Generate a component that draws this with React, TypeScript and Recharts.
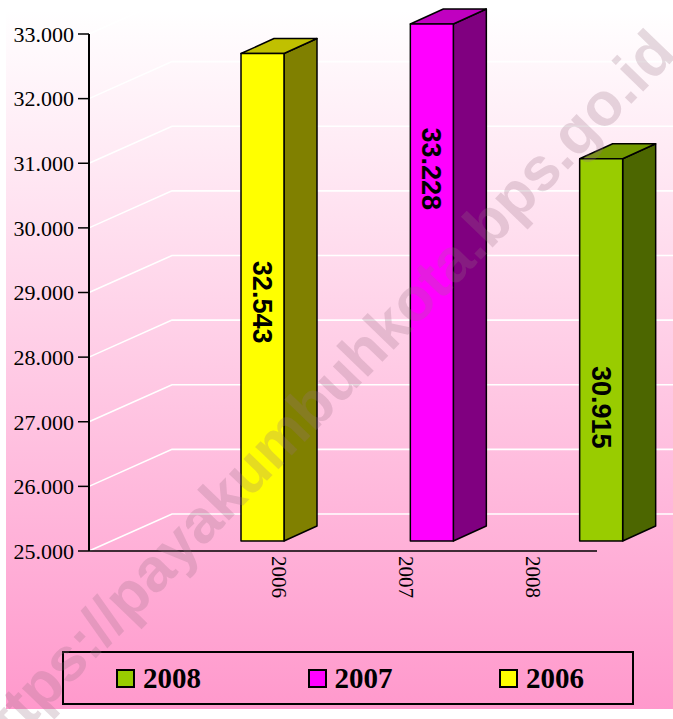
import React from "react";
import {
  BarChart,
  Bar,
  XAxis,
  YAxis,
  CartesianGrid,
  Legend,
  LabelList,
} from "recharts";

const YEARS = ["2006", "2007", "2008"];
const VALUES = [32543, 33228, 30915];
const Y_TICKS = [25000, 26000, 27000, 28000, 29000, 30000, 31000, 32000, 33000];
const LEGEND_YEARS = ["2008", "2007", "2006"];

const Y_MIN = Y_TICKS[0];
const Y_MAX = Y_TICKS[Y_TICKS.length - 1];

// styles
const FRONT = ["#ffff00", "#ff00ff", "#99cc00"];
const TOP = ["#c0c000", "#c000c0", "#739900"];
const SIDE = ["#808000", "#800080", "#4c6600"];
const LEGEND_COLOR: Record<string, string> = {
  "2006": "#ffff00",
  "2007": "#ff00ff",
  "2008": "#99cc00",
};
const LABEL_AT = [0.51, 0.28, 0.65];
const SERIF = '"Liberation Serif", "Times New Roman", serif';
const SANS = '"Liberation Sans", Arial, sans-serif';

// 3d depth
const WALL_DX = 83;
const WALL_DY = 37;
const BAR_X = 22;
const BAR_Y = 10;
const BOX_DX = 33;
const BOX_DY = 15;

const data = YEARS.map((year, i) => ({
  year,
  value: VALUES[i],
  shown: Math.min(VALUES[i], Y_MAX),
}));

const fmt = (v: number) =>
  String(v).replace(/\B(?=(\d{3})+(?!\d))/g, ".");

const Box3D = (props: any) => {
  const { x, y, width, height, index } = props;
  const fx = x + BAR_X;
  const fy = y - BAR_Y;
  const top = `M${fx},${fy}L${fx + BOX_DX},${fy - BOX_DY}L${fx + width + BOX_DX},${fy - BOX_DY}L${fx + width},${fy}Z`;
  const side = `M${fx + width},${fy}L${fx + width + BOX_DX},${fy - BOX_DY}L${fx + width + BOX_DX},${fy + height - BOX_DY}L${fx + width},${fy + height}Z`;
  return (
    <g stroke="#000" strokeWidth={1.5} strokeLinejoin="round">
      <path d={side} fill={SIDE[index]} />
      <path d={top} fill={TOP[index]} />
      <rect x={fx} y={fy} width={width} height={height} fill={FRONT[index]} />
    </g>
  );
};

const ValueLabel = (props: any) => {
  const { x, y, width, height, value, index } = props;
  const cx = x + BAR_X + width / 2;
  const cy = y - BAR_Y + height * LABEL_AT[index];
  return (
    <text
      x={cx}
      y={cy}
      transform={`rotate(90 ${cx} ${cy})`}
      textAnchor="middle"
      dy="0.35em"
      fontFamily={SANS}
      fontWeight="bold"
      fontSize={27}
      fill="#000"
    >
      {fmt(value)}
    </text>
  );
};

const YearTick = (props: any) => {
  const { x, y, payload } = props;
  const ty = y - 3;
  return (
    <text
      x={x}
      y={ty}
      transform={`rotate(90 ${x} ${ty})`}
      textAnchor="start"
      dy="0.35em"
      fontFamily={SERIF}
      fontSize={21}
      fill="#000"
    >
      {payload.value}
    </text>
  );
};

const LegendBox = () => (
  <div
    style={{
      width: 572,
      height: 54,
      border: "2px solid #000",
      boxSizing: "border-box",
      display: "flex",
      alignItems: "center",
      paddingLeft: 52,
    }}
  >
    {LEGEND_YEARS.map((yr) => (
      <div
        key={yr}
        style={{
          width: 191.5,
          flexShrink: 0,
          display: "flex",
          alignItems: "center",
          gap: 8,
        }}
      >
        <span
          style={{
            width: 19,
            height: 19,
            boxSizing: "border-box",
            border: "2px solid #000",
            background: LEGEND_COLOR[yr],
            display: "inline-block",
          }}
        />
        <span
          style={{
            fontFamily: SERIF,
            fontWeight: "bold",
            fontSize: 29,
            lineHeight: "29px",
            color: "#000",
          }}
        >
          {yr}
        </span>
      </div>
    ))}
  </div>
);

const App = () => {
  return (
    <div
      style={{
        position: "absolute",
        left: 0,
        top: 0,
        width: 673,
        height: 719,
        background: "#fff",
        overflow: "hidden",
      }}
    >
      <div
        style={{
          position: "absolute",
          left: 6,
          top: 10,
          width: 667,
          height: 699,
          background: "linear-gradient(to bottom, #ffffff 0%, #ff99cc 100%)",
        }}
      />
      <div style={{ position: "absolute", left: 0, top: 0 }}>
        <BarChart
          width={673}
          height={719}
          data={data}
          margin={{ top: 34, right: 76, bottom: 118, left: 0 }}
        >
          <CartesianGrid
            vertical={false}
            horizontal={(p: any) => (
              <path
                key={p.key ?? `g${p.index}`}
                d={`M${p.x1},${p.y1}L${p.x1 + WALL_DX},${p.y1 - WALL_DY}L673,${p.y1 - WALL_DY}`}
                stroke="#ffffff"
                strokeWidth={1.6}
                fill="none"
              />
            )}
          />
          <XAxis
            dataKey="year"
            padding={{ left: 127, right: 0 }}
            axisLine={{ stroke: "#000", strokeWidth: 1.5 }}
            tickLine={false}
            tick={<YearTick />}
            interval={0}
            height={50}
          />
          <XAxis
            xAxisId="bars"
            dataKey="year"
            hide
            padding={{ left: 67, right: -67 }}
          />
          <YAxis
            width={89}
            domain={[Y_MIN, Y_MAX]}
            ticks={Y_TICKS}
            interval={0}
            tickFormatter={fmt}
            axisLine={{ stroke: "#000", strokeWidth: 2 }}
            tickLine={{ stroke: "#000", strokeWidth: 1.5 }}
            tickSize={11}
            tickMargin={4}
            tick={{ fontFamily: SERIF, fontSize: 22, fill: "#000" }}
          />
          <Legend
            layout="vertical"
            align="center"
            verticalAlign="middle"
            wrapperStyle={{ left: 62, top: 651, width: 572, height: 54 }}
            content={() => <LegendBox />}
          />
          <Bar
            xAxisId="bars"
            dataKey="shown"
            barSize={43}
            shape={<Box3D />}
            isAnimationActive={false}
          >
            <LabelList dataKey="value" content={<ValueLabel />} />
          </Bar>
        </BarChart>
      </div>
      <div
        style={{
          position: "absolute",
          left: 318,
          top: 398,
          transform: "translate(-50%, -50%) rotate(-46deg)",
          whiteSpace: "nowrap",
          fontFamily: SANS,
          fontWeight: "bold",
          fontSize: 61,
          color: "rgba(150,110,130,0.25)",
          pointerEvents: "none",
        }}
      >
        https://payakumbuhkota.bps.go.id
      </div>
    </div>
  );
};

export default App;
